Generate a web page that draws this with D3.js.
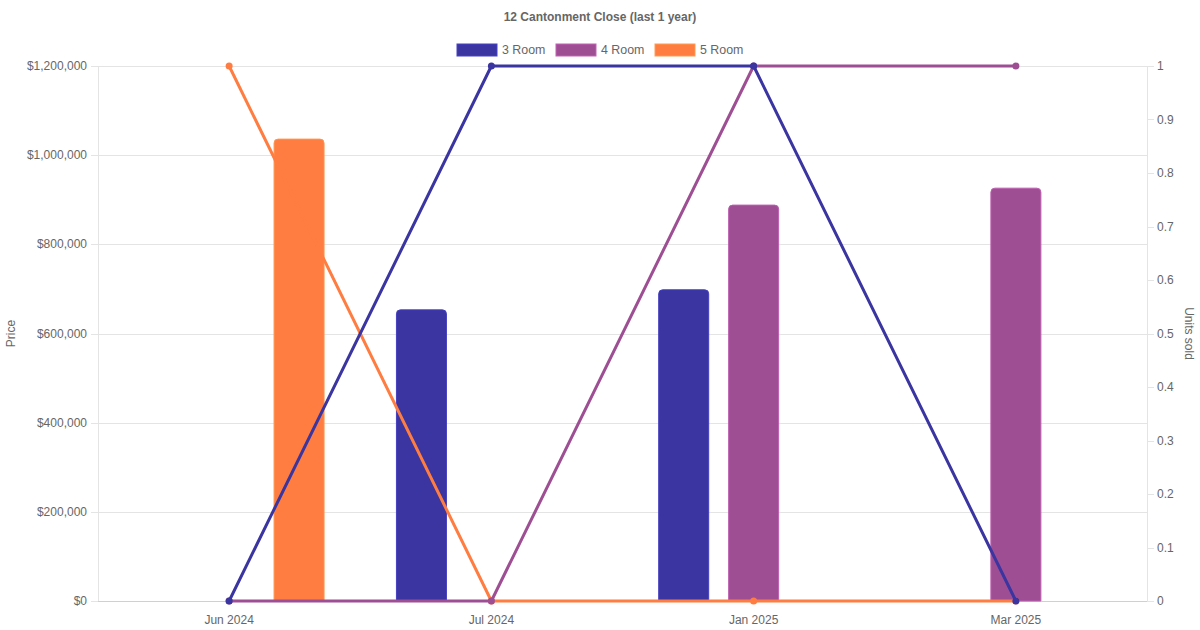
<!DOCTYPE html>
<html><head><meta charset="utf-8">
<script src="https://cdn.jsdelivr.net/npm/d3@7"></script>
<style>body{margin:0;background:#fff;}svg{display:block;font-family:"Liberation Sans",Arial,sans-serif;}</style>
</head><body>
<svg id="c" width="1200" height="630"></svg>
<script>
const categories = ["Jun 2024", "Jul 2024", "Jan 2025", "Mar 2025"];
const seriesNames = ["3 Room", "4 Room", "5 Room"];
const seriesColors = ["#3a35a0", "#9e4f93", "#ff7d41"];
const price3Room = [null, 653000, 698000, null];
const price4Room = [null, null, 888000, 926000];
const price5Room = [1036000, null, null, null];
const units3Room = [0, 1, 1, 0];
const units4Room = [0, 0, 1, 1];
const units5Room = [1, 0, 0, 0];
const priceTicks = [0, 200000, 400000, 600000, 800000, 1000000, 1200000];
const unitTicks = [0, 0.1, 0.2, 0.3, 0.4, 0.5, 0.6, 0.7, 0.8, 0.9, 1];

const prices = [price3Room, price4Room, price5Room];
const units = [units3Room, units4Room, units5Room];

const svg = d3.select("#c");
const L = 98, R = 1147, T = 66, B = 601;
const x = d3.scaleBand().domain(categories).range([L, R]);
// chart.js-like grouping: category uses 80% of band, 3 slots
const slot = x.bandwidth() * 0.8 / 3;
const yL = d3.scaleLinear().domain([0, 1200000]).range([B, T]);
const yR = d3.scaleLinear().domain([0, 1]).range([B, T]);
const grey = "#666";
const gridC = "#e4e4e4";

// title
svg.append("text").attr("x", 600).attr("y", 21).attr("text-anchor", "middle")
  .attr("font-size", 12).attr("font-weight", "bold").attr("fill", grey)
  .text("12 Cantonment Close (last 1 year)");

// legend
const legendX = [457, 556, 655];
seriesNames.forEach((n, i) => {
  const g = svg.append("g");
  g.append("rect").attr("x", legendX[i]).attr("y", 44).attr("width", 40).attr("height", 12)
    .attr("fill", seriesColors[i]).attr("stroke", d3.color(seriesColors[i]).brighter(0.6)).attr("stroke-width", 1);
  g.append("text").attr("x", legendX[i] + 45).attr("y", 54).attr("font-size", 12.4).attr("fill", grey).text(n);
});

// left axis grid + ticks
const gl = svg.append("g");
priceTicks.forEach(v => {
  gl.append("line").attr("x1", L - 7).attr("x2", R).attr("y1", Math.round(yL(v)) + 0.5).attr("y2", Math.round(yL(v)) + 0.5)
    .attr("stroke", gridC).attr("stroke-width", 1);
  gl.append("text").attr("x", L - 11).attr("y", yL(v) + 4).attr("text-anchor", "end")
    .attr("font-size", 12).attr("fill", grey).text("$" + d3.format(",")(v));
});
// right axis ticks
unitTicks.forEach(v => {
  gl.append("line").attr("x1", R).attr("x2", R + 7).attr("y1", Math.round(yR(v)) + 0.5).attr("y2", Math.round(yR(v)) + 0.5)
    .attr("stroke", gridC).attr("stroke-width", 1);
  gl.append("text").attr("x", R + 10).attr("y", yR(v) + 4).attr("text-anchor", "start")
    .attr("font-size", 12).attr("fill", grey).text(String(v));
});
// axis lines
gl.append("line").attr("x1", L + 0.5).attr("x2", L + 0.5).attr("y1", T).attr("y2", B).attr("stroke", gridC);
gl.append("line").attr("x1", R + 0.5).attr("x2", R + 0.5).attr("y1", T).attr("y2", B).attr("stroke", gridC);
gl.append("line").attr("x1", L).attr("x2", R).attr("y1", B + 0.5).attr("y2", B + 0.5).attr("stroke", "#d0d0d0");

// x labels
categories.forEach(c => {
  gl.append("text").attr("x", x(c) + x.bandwidth() / 2).attr("y", 624).attr("text-anchor", "middle")
    .attr("font-size", 12).attr("fill", grey).text(c);
});

// axis titles
svg.append("text").attr("transform", `translate(15,${(T + B) / 2}) rotate(-90)`).attr("text-anchor", "middle")
  .attr("font-size", 12).attr("fill", grey).text("Price");
svg.append("text").attr("transform", `translate(1185,${(T + B) / 2}) rotate(90)`).attr("text-anchor", "middle")
  .attr("font-size", 12).attr("fill", grey).text("Units sold");

// bars
const barW = 50, rad = 4;
function topRounded(x0, y0, w, h, r) {
  return `M${x0},${y0 + h}V${y0 + r}Q${x0},${y0} ${x0 + r},${y0}H${x0 + w - r}Q${x0 + w},${y0} ${x0 + w},${y0 + r}V${y0 + h}Z`;
}
prices.forEach((arr, si) => {
  arr.forEach((v, ci) => {
    if (v == null) return;
    const cx = x(categories[ci]) + x.bandwidth() / 2 + (si - 1) * slot;
    const y0 = yL(v);
    svg.append("path").attr("d", topRounded(cx - barW / 2, y0, barW, B - y0, rad))
      .attr("fill", seriesColors[si]).attr("stroke", d3.color(seriesColors[si]).brighter(0.5)).attr("stroke-width", 1);
  });
});

// lines: draw 5 Room first, 3 Room last (on top)
const line = d3.line().x((d, i) => x(categories[i]) + x.bandwidth() / 2).y(d => yR(d));
[2, 1, 0].forEach(si => {
  svg.append("path").attr("d", line(units[si])).attr("fill", "none")
    .attr("stroke", seriesColors[si]).attr("stroke-width", 3).attr("stroke-linejoin", "round");
  units[si].forEach((v, i) => {
    svg.append("circle").attr("cx", x(categories[i]) + x.bandwidth() / 2).attr("cy", yR(v)).attr("r", 3.5)
      .attr("fill", seriesColors[si]);
  });
});
</script>
</body></html>
